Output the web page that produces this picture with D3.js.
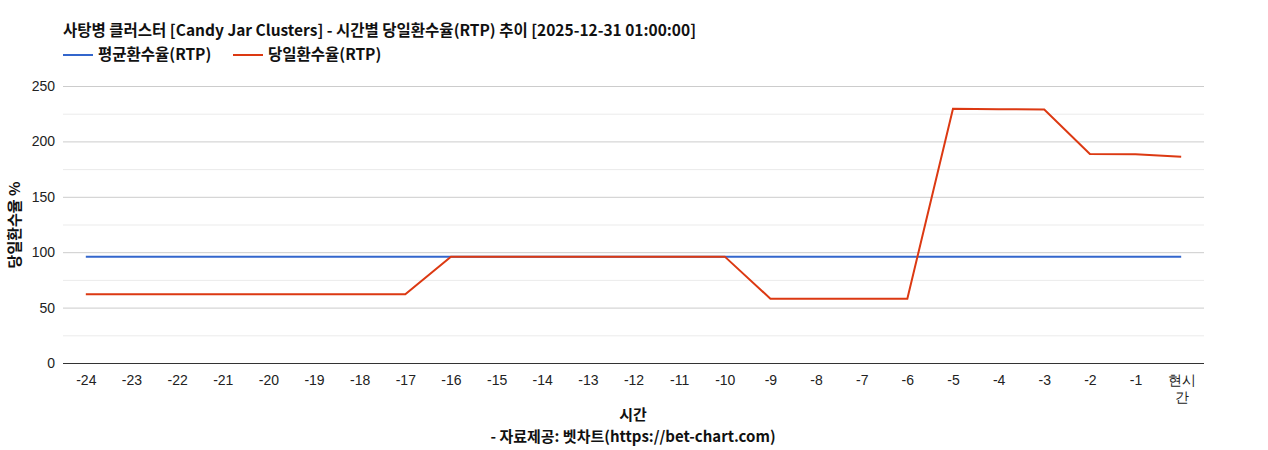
<!DOCTYPE html>
<html><head><meta charset="utf-8">
<script src="https://cdn.jsdelivr.net/npm/d3@7"></script>
<style>
body{margin:0;background:#fff;}
.b{font-family:"Noto Sans CJK KR","Liberation Sans",sans-serif;font-weight:bold;}
.tk text{font-family:"Liberation Sans",Arial,sans-serif;}
</style></head>
<body><svg id="c" width="1268" height="450"></svg>
<script>
const categories = ["-24","-23","-22","-21","-20","-19","-18","-17","-16","-15","-14","-13","-12","-11","-10","-9","-8","-7","-6","-5","-4","-3","-2","-1","현시간"];
const avgRTP = [96,96,96,96,96,96,96,96,96,96,96,96,96,96,96,96,96,96,96,96,96,96,96,96,96];
const dayRTP = [62,62,62,62,62,62,62,62,96,96,96,96,96,96,96,58,58,58,58,229.5,229,228.8,188.6,188.5,186.2];
const yTicks = [0,50,100,150,200,250];
const seriesNames = ["평균환수율(RTP)","당일환수율(RTP)"];
const colors = ["#3366cc","#dc3912"];

const svg = d3.select("#c");
const L=63,R=1204,T=86,B=363;
const x = d3.scalePoint().domain(categories).range([L,R]).padding(0.5);
const y = d3.scaleLinear().domain([0,250]).range([B,T]);

// gridlines
const minor = d3.range(25,250,50);
svg.append("g").selectAll("line").data(minor).join("line")
  .attr("x1",L).attr("x2",R).attr("y1",d=>y(d)+0.5).attr("y2",d=>y(d)+0.5)
  .attr("stroke","#ebebeb").attr("stroke-width",1);
svg.append("g").selectAll("line").data(yTicks.filter(d=>d>0)).join("line")
  .attr("x1",L).attr("x2",R).attr("y1",d=>y(d)+0.5).attr("y2",d=>y(d)+0.5)
  .attr("stroke","#cccccc").attr("stroke-width",1);

// y axis labels
const ya = svg.append("g").attr("class","tk").attr("transform",`translate(${L},0)`)
  .call(d3.axisLeft(y).tickValues(yTicks).tickSize(0).tickPadding(8));
ya.attr("font-family","Liberation Sans");
ya.select(".domain").remove();
ya.selectAll("text").attr("font-size",14).attr("fill","#222");

// x axis
const xa = svg.append("g").attr("class","tk").attr("transform",`translate(0,${B})`)
  .call(d3.axisBottom(x).tickSize(0).tickPadding(12));
xa.attr("font-family","Liberation Sans");
xa.select(".domain").attr("stroke","#333").attr("d",`M${L},0.5H${R}`);
xa.selectAll("text").attr("font-size",14).attr("fill","#222")
  .each(function(d){
    if(d.length>2 && !d.startsWith("-")){
      const t=d3.select(this); t.text(null);
      t.append("tspan").attr("x",0).attr("dy","0.71em").text(d.slice(0,2));
      t.append("tspan").attr("x",0).attr("dy","1.25em").text(d.slice(2));
    }
  });

// lines
const line = d3.line().x((d,i)=>x(categories[i])).y(d=>y(d));
[avgRTP,dayRTP].forEach((s,k)=>{
  svg.append("path").datum(s).attr("d",line).attr("fill","none")
    .attr("stroke",colors[k]).attr("stroke-width",2);
});

// title
svg.append("text").attr("class","b").attr("x",63).attr("y",36)
  .attr("font-size",15.5).attr("fill","#111")
  .text("사탕병 클러스터 [Candy Jar Clusters] - 시간별 당일환수율(RTP) 추이 [2025-12-31 01:00:00]");

// legend
const lx=[63,233];
seriesNames.forEach((n,k)=>{
  svg.append("line").attr("x1",lx[k]).attr("x2",lx[k]+30).attr("y1",55).attr("y2",55)
    .attr("stroke",colors[k]).attr("stroke-width",2);
  svg.append("text").attr("class","b").attr("x",lx[k]+35).attr("y",60)
    .attr("font-size",15.5).attr("fill","#111").text(n);
});

// axis titles
svg.append("text").attr("class","b").attr("transform","translate(20,225) rotate(-90)")
  .attr("text-anchor","middle").attr("font-size",15).attr("fill","#111").text("당일환수율 %");
svg.append("text").attr("class","b").attr("x",633).attr("y",420)
  .attr("text-anchor","middle").attr("font-size",15).attr("fill","#111").text("시간");
svg.append("text").attr("class","b").attr("x",633).attr("y",442)
  .attr("text-anchor","middle").attr("font-size",15).attr("fill","#111").text("- 자료제공: 벳차트(https://bet-chart.com)");
</script></body></html>
